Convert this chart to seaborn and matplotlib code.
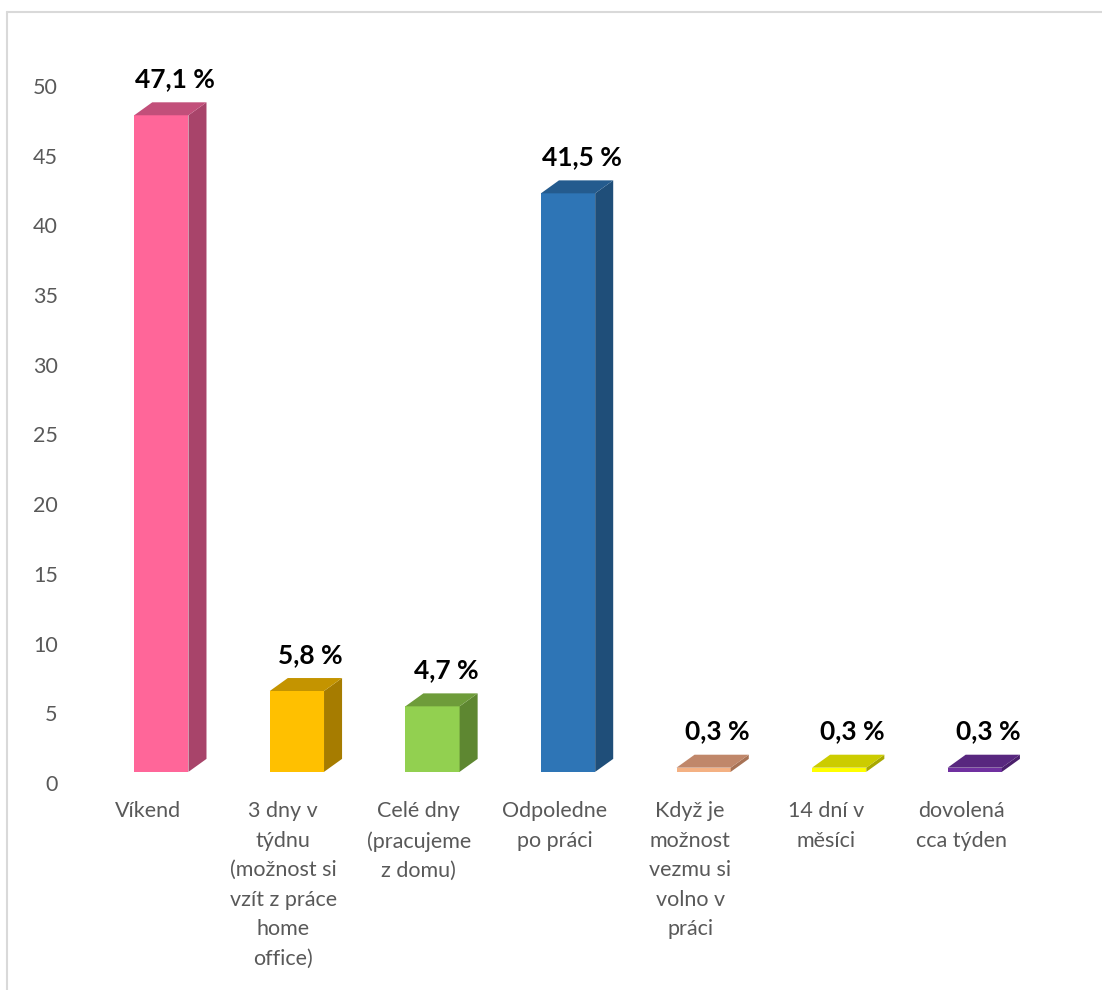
import numpy as np
import seaborn as sns
import matplotlib.pyplot as plt
from matplotlib.patches import Polygon
from matplotlib.lines import Line2D

categories = [
    "Víkend",
    "3 dny v\ntýdnu\n(možnost si\nvzít z práce\nhome\noffice)",
    "Celé dny\n(pracujeme\nz domu)",
    "Odpoledne\npo práci",
    "Když je\nmožnost\nvezmu si\nvolno v\npráci",
    "14 dní v\nměsíci",
    "dovolená\ncca týden",
]
values = [47.1, 5.8, 4.7, 41.5, 0.3, 0.3, 0.3]

front_colors = ["#FF6699", "#FFC000", "#92D050", "#2E75B6", "#F4B183", "#FFFF00", "#7030A0"]
side_colors = ["#A8446A", "#A67C00", "#5E8731", "#1F4E79", "#A77255", "#A8A800", "#4A1F6B"]
top_colors = ["#C24F7A", "#C49400", "#6E9C3A", "#245B8E", "#C0876A", "#CCCC00", "#58277F"]

sns.set_style("white")
plt.rcParams["font.family"] = ["Lato", "DejaVu Sans"]

BASE = 0.8      # floor offset of the 3d bars (data units)
DX = 0.133      # depth in category units
DY = 0.93       # depth in value units
SHIFT = 0.1     # front face offset from category centre

fig = plt.figure(figsize=(11.02, 9.9), dpi=100)
ax = fig.add_axes([80 / 1102, (990 - 783) / 990, (1029 - 80) / 1102, (783 - 86) / 990])

sns.barplot(x=categories, y=values, hue=categories, palette=front_colors, legend=False,
            width=0.4, saturation=1, errorbar=None, ax=ax, linewidth=0)

for i, (patch, v) in enumerate(zip(ax.patches, values)):
    x0 = patch.get_x() + SHIFT
    w = patch.get_width()
    patch.set_x(x0)
    patch.set_y(BASE)
    x1 = x0 + w
    top = BASE + v
    side = Polygon([(x1, BASE), (x1 + DX, BASE + DY), (x1 + DX, top + DY), (x1, top)],
                   closed=True, facecolor=side_colors[i], edgecolor="none")
    lid = Polygon([(x0, top), (x0 + DX, top + DY), (x1 + DX, top + DY), (x1, top)],
                  closed=True, facecolor=top_colors[i], edgecolor="none")
    ax.add_patch(side)
    ax.add_patch(lid)
    label = f"{v:.1f}".replace(".", ",") + " %"
    ax.text(i + 0.2, v + 3.4, label, ha="center", va="center", fontsize=19,
            fontweight="bold", color="black", clip_on=False)

ax.set_xlim(-0.5, len(categories) - 0.5)
ax.set_ylim(0, 50)
ax.set_yticks(np.arange(0, 51, 5))
ax.tick_params(axis="y", length=0, pad=16, labelsize=15.5, labelcolor="#595959")
ax.tick_params(axis="x", length=0, pad=13, labelsize=15.5, labelcolor="#595959")
for lbl in ax.get_xticklabels():
    lbl.set_linespacing(1.6)
    lbl.set_va("top")
ax.set_xlabel("")
ax.set_ylabel("")
sns.despine(ax=ax, left=True, bottom=True)

# chart frame (only top and left edges fall inside the image)
fig.add_artist(Line2D([7 / 1102, 7 / 1102], [0, 1 - 12 / 990], color="#D9D9D9", lw=1.5))
fig.add_artist(Line2D([7 / 1102, 1], [1 - 12 / 990, 1 - 12 / 990], color="#D9D9D9", lw=1.5))

fig.savefig("out.png", dpi=100, facecolor="white")
